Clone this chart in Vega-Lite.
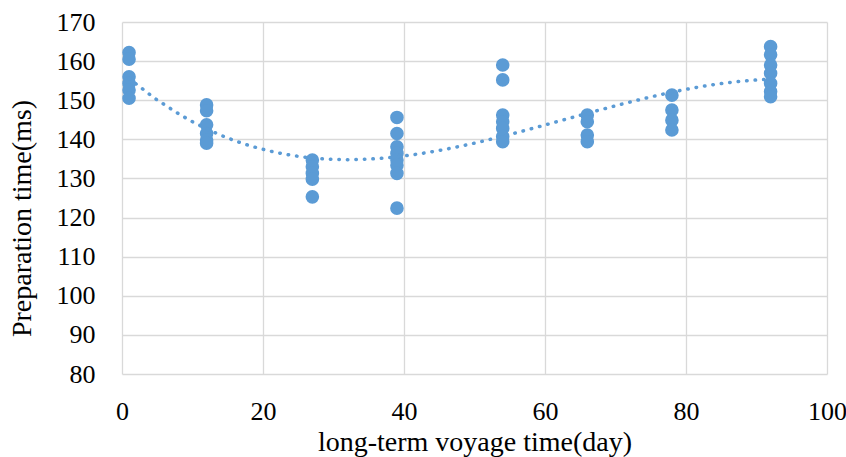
{
  "$schema": "https://vega.github.io/schema/vega-lite/v6.json",
  "width": 705,
  "height": 352,
  "autosize": "none",
  "padding": {"left": 122, "top": 22, "right": 19, "bottom": 83},
  "config": {
    "view": {"stroke": null},
    "font": "Liberation Serif",
    "axis": {"labelFont": "Liberation Serif", "titleFont": "Liberation Serif", "labelColor": "#000", "titleColor": "#000", "titleFontWeight": "normal", "gridColor": "#d9d9d9", "gridWidth": 1.3, "domain": false, "ticks": false, "labelOverlap": false, "labelFlush": false}
  },
  "data": {"values": [
    {"day": 1, "time": 162.2}, {"day": 1, "time": 160.5}, {"day": 1, "time": 156}, {"day": 1, "time": 154.3}, {"day": 1, "time": 152.6}, {"day": 1, "time": 150.5},
    {"day": 12, "time": 148.8}, {"day": 12, "time": 147.3}, {"day": 12, "time": 143.7}, {"day": 12, "time": 141.5}, {"day": 12, "time": 139.8}, {"day": 12, "time": 139},
    {"day": 27, "time": 134.7}, {"day": 27, "time": 133}, {"day": 27, "time": 131.3}, {"day": 27, "time": 129.8}, {"day": 27, "time": 125.3},
    {"day": 39, "time": 145.6}, {"day": 39, "time": 141.5}, {"day": 39, "time": 138.1}, {"day": 39, "time": 136.4}, {"day": 39, "time": 134.7}, {"day": 39, "time": 133.4}, {"day": 39, "time": 131.3}, {"day": 39, "time": 122.4},
    {"day": 54, "time": 159}, {"day": 54, "time": 155.2}, {"day": 54, "time": 146.2}, {"day": 54, "time": 144.5}, {"day": 54, "time": 142.8}, {"day": 54, "time": 140.7}, {"day": 54, "time": 139.4},
    {"day": 66, "time": 146.2}, {"day": 66, "time": 144.5}, {"day": 66, "time": 141.1}, {"day": 66, "time": 139.4},
    {"day": 78, "time": 151.3}, {"day": 78, "time": 147.5}, {"day": 78, "time": 144.9}, {"day": 78, "time": 142.4},
    {"day": 92, "time": 163.7}, {"day": 92, "time": 161.6}, {"day": 92, "time": 159}, {"day": 92, "time": 156.9}, {"day": 92, "time": 154.3}, {"day": 92, "time": 152.2}, {"day": 92, "time": 150.9}
  ]},
  "encoding": {
    "x": {"field": "day", "type": "quantitative", "scale": {"domain": [0, 100], "nice": false}, "axis": {"values": [0, 20, 40, 60, 80, 100], "title": "long-term voyage time(day)", "labelFontSize": 26, "titleFontSize": 28, "labelPadding": 24, "titlePadding": 4}},
    "y": {"field": "time", "type": "quantitative", "scale": {"domain": [80, 170], "nice": false, "zero": false}, "axis": {"values": [80, 90, 100, 110, 120, 130, 140, 150, 160, 170], "title": "Preparation time(ms)", "labelFontSize": 26, "titleFontSize": 28, "labelPadding": 27, "titlePadding": 20, "titleY": 196}}
  },
  "layer": [
    {
      "mark": {"type": "circle", "size": 185, "opacity": 1, "color": "#5B9BD5"}
    },
    {
      "transform": [{"regression": "time", "on": "day", "method": "poly", "order": 3}],
      "mark": {"type": "line", "color": "#5B9BD5", "strokeWidth": 3.5, "strokeDash": [0.5, 8], "strokeCap": "round"}
    }
  ]
}
